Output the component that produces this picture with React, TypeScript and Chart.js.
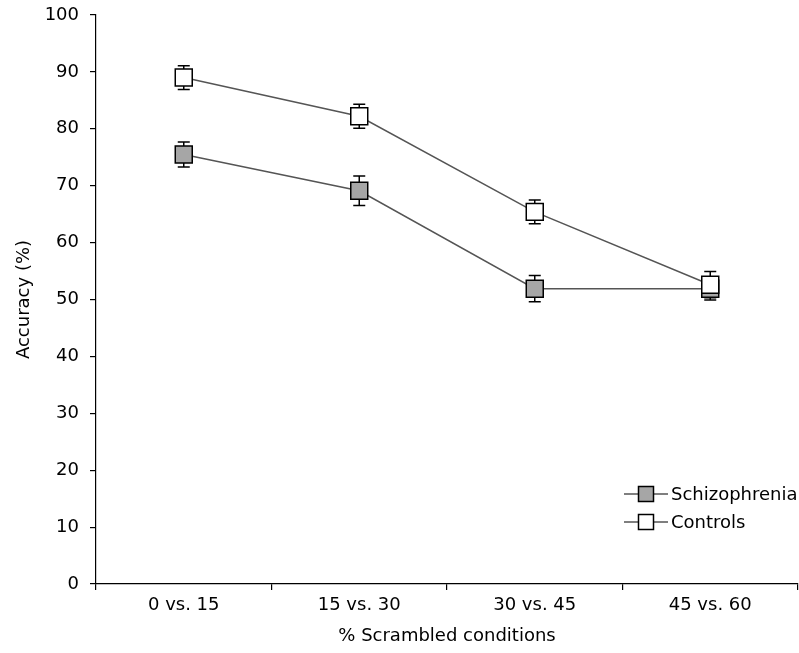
import React, { useEffect, useRef } from "react";
import { Chart, registerables } from "chart.js";

Chart.register(...registerables);

const categories = ["0 vs. 15", "15 vs. 30", "30 vs. 45", "45 vs. 60"];
const schizoValues = [75.5, 69.1, 51.9, 51.9];
const schizoErrors = [2.2, 2.6, 2.3, 2.0];
const controlValues = [89.0, 82.2, 65.4, 52.6];
const controlErrors = [2.1, 2.1, 2.1, 2.3];
const seriesNames = ["Schizophrenia", "Controls"];
const yTicks = [0, 10, 20, 30, 40, 50, 60, 70, 80, 90, 100];

const FONT = "'DejaVu Sans', Verdana, sans-serif";
const FONT_SIZE = 18;
const LINE_COLOR = "#555555";
const SCHIZO_FILL = "#a6a6a6";
const CONTROL_FILL = "#ffffff";

const errorBarPlugin = {
  id: "errorBars",
  beforeDatasetsDraw(chart: any) {
    const ctx = chart.ctx;
    const yScale = chart.scales.y;
    const errs = [schizoErrors, controlErrors];
    ctx.save();
    ctx.strokeStyle = "#000";
    ctx.lineWidth = 1.5;
    chart.data.datasets.forEach((ds: any, di: number) => {
      const meta = chart.getDatasetMeta(di);
      meta.data.forEach((pt: any, i: number) => {
        const v = ds.data[i];
        const e = errs[di][i];
        const x = pt.x;
        const yTop = yScale.getPixelForValue(v + e);
        const yBot = yScale.getPixelForValue(v - e);
        ctx.beginPath();
        ctx.moveTo(x, yTop);
        ctx.lineTo(x, yBot);
        ctx.moveTo(x - 6, yTop);
        ctx.lineTo(x + 6, yTop);
        ctx.moveTo(x - 6, yBot);
        ctx.lineTo(x + 6, yBot);
        ctx.stroke();
      });
    });
    ctx.restore();
  },
};

const legendPlugin = {
  id: "customLegend",
  afterDraw(chart: any) {
    const ctx = chart.ctx;
    const area = chart.chartArea;
    const fills = [SCHIZO_FILL, CONTROL_FILL];
    ctx.save();
    seriesNames.forEach((name, i) => {
      const y = area.bottom - 90 + i * 28;
      const x0 = area.right - 174;
      const x1 = x0 + 44;
      const mx = x0 + 22;
      ctx.strokeStyle = "#000";
      ctx.lineWidth = 1.2;
      ctx.beginPath();
      ctx.moveTo(x0, y);
      ctx.lineTo(x1, y);
      ctx.stroke();
      ctx.fillStyle = fills[i];
      ctx.fillRect(mx - 7.5, y - 7.5, 15, 15);
      ctx.lineWidth = 1.5;
      ctx.strokeRect(mx - 7.5, y - 7.5, 15, 15);
      ctx.fillStyle = "#000";
      ctx.font = `${FONT_SIZE}px ${FONT}`;
      ctx.textBaseline = "middle";
      ctx.textAlign = "left";
      ctx.fillText(name, x1 + 3, y + 1);
    });
    ctx.restore();
  },
};

export default function App() {
  const ref = useRef<HTMLCanvasElement | null>(null);

  useEffect(() => {
    if (!ref.current) return;
    const chart = new Chart(ref.current, {
      type: "line",
      data: {
        labels: categories,
        datasets: [
          {
            label: seriesNames[0],
            data: schizoValues,
            borderColor: LINE_COLOR,
            borderWidth: 1.5,
            pointStyle: "rect",
            pointRadius: 12,
            pointBackgroundColor: SCHIZO_FILL,
            pointBorderColor: "#000",
            pointBorderWidth: 1.5,
            tension: 0,
            order: 2,
          },
          {
            label: seriesNames[1],
            data: controlValues,
            borderColor: LINE_COLOR,
            borderWidth: 1.5,
            pointStyle: "rect",
            pointRadius: 12,
            pointBackgroundColor: CONTROL_FILL,
            pointBorderColor: "#000",
            pointBorderWidth: 1.5,
            tension: 0,
            order: 1,
          },
        ],
      },
      options: {
        animation: false,
        responsive: false,
        maintainAspectRatio: false,
        devicePixelRatio: 1,
        layout: { autoPadding: false, padding: { left: 0, right: 1, top: 15, bottom: 0 } },
        plugins: {
          legend: { display: false },
          tooltip: { enabled: false },
        },
        scales: {
          x: {
            type: "category",
            offset: true,
            border: { display: true, color: "#000", width: 1.2 },
            grid: {
              display: true,
              offset: true,
              drawOnChartArea: false,
              drawTicks: true,
              tickLength: 6,
              color: "#000",
              lineWidth: 1.2,
            },
            ticks: {
              color: "#000",
              font: { family: FONT, size: FONT_SIZE },
              padding: 5,
              maxRotation: 0,
            },
            title: {
              display: true,
              text: "% Scrambled conditions",
              color: "#000",
              font: { family: FONT, size: FONT_SIZE },
              padding: { top: 0, bottom: 6 },
            },
            afterFit(scale: any) {
              scale.height = 69;
              scale.paddingLeft = 0;
              scale.paddingRight = 0;
            },
          },
          y: {
            min: 0,
            max: 100,
            afterBuildTicks(scale: any) {
              scale.ticks = yTicks.map((v) => ({ value: v }));
            },
            border: { display: true, color: "#000", width: 1.2 },
            grid: {
              display: true,
              drawOnChartArea: false,
              drawTicks: true,
              tickLength: 6,
              color: "#000",
              lineWidth: 1.2,
            },
            ticks: {
              color: "#000",
              font: { family: FONT, size: FONT_SIZE },
              padding: 11,
            },
            title: {
              display: true,
              text: "Accuracy (%)",
              color: "#000",
              font: { family: FONT, size: FONT_SIZE },
              padding: { top: 14, bottom: 0 },
            },
            afterFit(scale: any) {
              scale.width = 96;
              scale.paddingTop = 0;
              scale.paddingBottom = 0;
              scale.paddingLeft = 0;
              scale.paddingRight = 0;
            },
          },
        },
      },
      plugins: [errorBarPlugin, legendPlugin],
    } as any);
    return () => chart.destroy();
  }, []);

  return (
    <div style={{ position: "fixed", left: 0, top: 0, width: 799, height: 653, background: "#fff" }}>
      <canvas ref={ref} width={799} height={653} style={{ display: "block", width: 799, height: 653 }} />
    </div>
  );
}
